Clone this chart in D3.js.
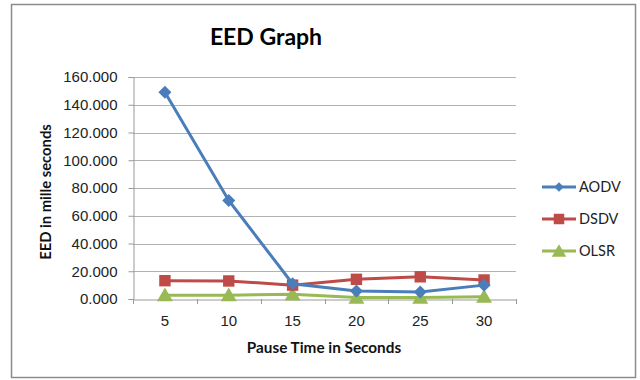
<!DOCTYPE html>
<html>
<head>
<meta charset="utf-8">
<script src="https://cdn.jsdelivr.net/npm/d3@7"></script>
<style>
  body { margin: 0; background: #fff; }
  svg { display: block; font-family: Lato, "Open Sans", sans-serif; }
</style>
</head>
<body>
<div id="chart"></div>
<script>
// Chart data
const pauseTimes = ['5', '10', '15', '20', '25', '30'];
const aodv = [149, 71, 11, 5.8, 5, 10];
const dsdv = [13.2, 13, 10, 14.2, 16, 13.7];
const olsr = [2.7, 2.7, 3.4, 1, 1, 1.7];
const yTicks = [0, 20, 40, 60, 80, 100, 120, 140, 160];
const seriesNames = ['AODV', 'DSDV', 'OLSR'];
const seriesColors = ['#4A7EBB', '#BE4B48', '#98B954'];

const W = 640, H = 380;
const plot = { left: 133, right: 516, top: 77, bottom: 299 };

const svg = d3.select('#chart')
    .append('svg')
    .attr('width', W)
    .attr('height', H);

// Outer frame
svg.append('rect')
    .attr('x', 11.5).attr('y', 4.5)
    .attr('width', 624).attr('height', 373)
    .attr('fill', '#fff')
    .attr('stroke', '#8c8c8c')
    .attr('stroke-width', 1.5);

// Scales
const x = d3.scaleBand()
    .domain(pauseTimes)
    .range([plot.left, plot.right]);

const y = d3.scaleLinear()
    .domain([0, 160])
    .range([plot.bottom, plot.top]);

// Horizontal grid lines
svg.append('g')
    .selectAll('line')
    .data(yTicks.filter(d => d > 0))
    .enter()
    .append('line')
    .attr('x1', plot.left)
    .attr('x2', plot.right)
    .attr('y1', d => Math.round(y(d)) + 0.5)
    .attr('y2', d => Math.round(y(d)) + 0.5)
    .attr('stroke', '#b3b3b3')
    .attr('stroke-width', 1);

// Y axis
const yAxis = svg.append('g')
    .attr('transform', `translate(${plot.left + 0.5},0)`)
    .call(d3.axisLeft(y).tickValues(yTicks).tickFormat(d3.format('.3f')).tickSize(5).tickPadding(11));
yAxis.select('.domain').attr('stroke', '#999');
yAxis.selectAll('.tick line').attr('stroke', '#999');
yAxis.selectAll('text')
    .style('font-size', '15px')
    .style('fill', '#222');

// X axis
const xAxis = svg.append('g')
    .attr('transform', `translate(0,${Math.round(plot.bottom) + 0.5})`)
    .call(d3.axisBottom(x).tickSize(0).tickPadding(16));
xAxis.select('.domain').attr('stroke', '#999');
xAxis.selectAll('text')
    .style('font-size', '15px')
    .style('fill', '#222');

// Tick marks at category boundaries
const bounds = pauseTimes.map(d => x(d)).concat([x(pauseTimes[pauseTimes.length - 1]) + x.bandwidth()]);
svg.append('g')
    .selectAll('line')
    .data(bounds)
    .enter()
    .append('line')
    .attr('x1', d => Math.round(d) + 0.5)
    .attr('x2', d => Math.round(d) + 0.5)
    .attr('y1', plot.bottom)
    .attr('y2', plot.bottom + 5)
    .attr('stroke', '#999');

// Title
svg.append('text')
    .attr('x', 266)
    .attr('y', 45)
    .attr('text-anchor', 'middle')
    .style('font-size', '23px')
    .style('font-weight', '700')
    .style('fill', '#000')
    .text('EED Graph');

// Axis titles
svg.append('text')
    .attr('transform', `translate(51,${(plot.top + plot.bottom) / 2 + 4}) rotate(-90)`)
    .attr('text-anchor', 'middle')
    .style('font-size', '14.8px')
    .style('font-weight', '700')
    .style('fill', '#111')
    .text('EED in mille seconds');

svg.append('text')
    .attr('x', 324)
    .attr('y', 353)
    .attr('text-anchor', 'middle')
    .style('font-size', '15.3px')
    .style('font-weight', '700')
    .style('fill', '#111')
    .text('Pause Time in Seconds');

// Marker shapes (diamond = rotated square)
const symbolTypes = [d3.symbolSquare, d3.symbolSquare, d3.symbolTriangle];
const symbolSizes = [85, 130, 110];
const symbolRot = [45, 0, 0];

const cx = d => x(d) + x.bandwidth() / 2;
const line = d3.line()
    .x(d => cx(d.t))
    .y(d => y(d.v));

const allSeries = [aodv, dsdv, olsr].map((vals, i) => ({
    name: seriesNames[i],
    color: seriesColors[i],
    values: vals.map((v, j) => ({ t: pauseTimes[j], v: v }))
}));

// Draw in reverse so AODV sits on top
allSeries.slice().reverse().forEach(s => {
    const i = seriesNames.indexOf(s.name);
    const g = svg.append('g');
    g.append('path')
        .datum(s.values)
        .attr('fill', 'none')
        .attr('stroke', s.color)
        .attr('stroke-width', 3)
        .attr('d', line);
    g.selectAll('path.mark')
        .data(s.values)
        .enter()
        .append('path')
        .attr('class', 'mark')
        .attr('transform', d => `translate(${cx(d.t)},${y(d.v) + (i === 2 ? 1.5 : 0)}) rotate(${symbolRot[i]})`)
        .attr('d', d3.symbol().type(symbolTypes[i]).size(symbolSizes[i]))
        .attr('fill', s.color);
});

// Legend
const legend = svg.append('g');
const legendY = [187, 219, 251];
const legendSizes = [45, 110, 90];
allSeries.forEach((s, i) => {
    const row = legend.append('g').attr('transform', `translate(542,${legendY[i]})`);
    row.append('line')
        .attr('x1', 0).attr('x2', 34)
        .attr('stroke', s.color)
        .attr('stroke-width', 3);
    row.append('path')
        .attr('transform', `translate(17,${i === 2 ? 1.5 : 0}) rotate(${symbolRot[i]})`)
        .attr('d', d3.symbol().type(symbolTypes[i]).size(legendSizes[i]))
        .attr('fill', s.color);
    row.append('text')
        .attr('x', 37)
        .attr('y', 5)
        .style('font-size', '14.5px')
        .style('fill', '#222')
        .text(s.name);
});
</script>
</body>
</html>
